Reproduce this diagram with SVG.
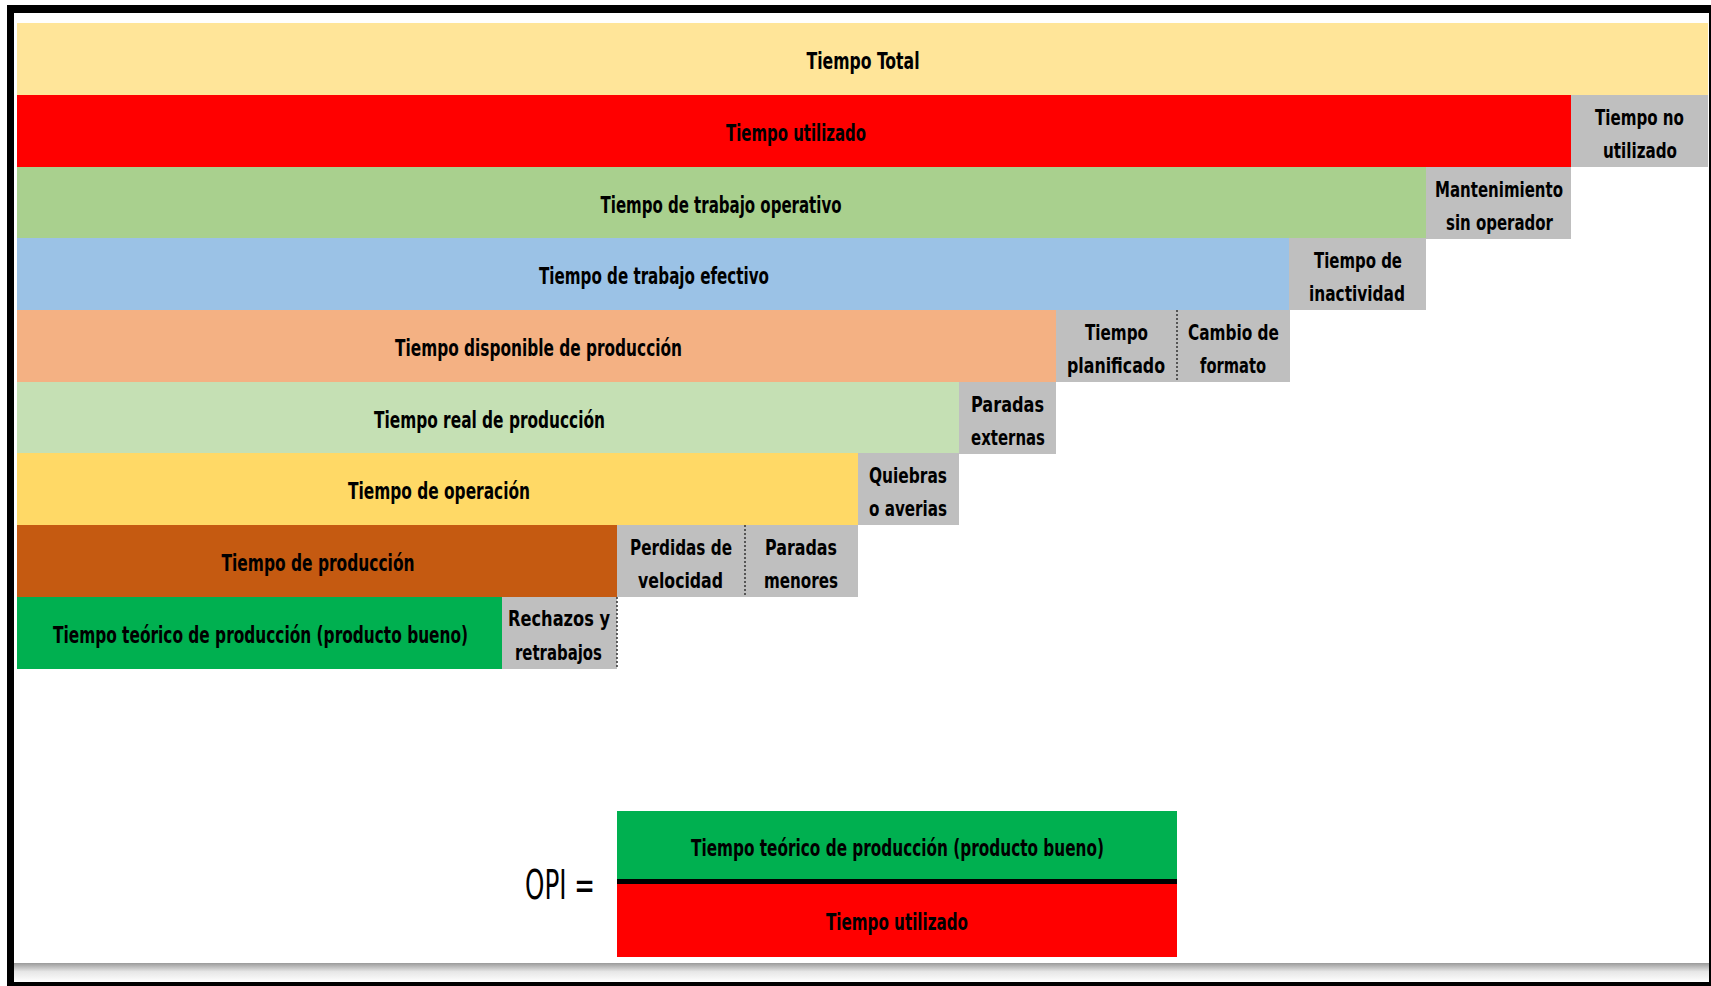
<svg xmlns="http://www.w3.org/2000/svg" width="1711" height="986" viewBox="0 0 1711 986">
<defs>
<linearGradient id="shadow" x1="0" y1="0" x2="0" y2="1">
<stop offset="0" stop-color="#9a9a9a"/>
<stop offset="0.45" stop-color="#e6e6e6"/>
<stop offset="1" stop-color="#ffffff"/>
</linearGradient>
</defs>
<style>
text{font-family:"Liberation Sans Narrow","DejaVu Sans Condensed","Liberation Sans",sans-serif;font-weight:bold;font-size:23px;fill:#000;text-anchor:middle}
.g{font-size:21px}
.gray{fill:#BFBFBF}
.dot{stroke:#333;stroke-width:1.5;stroke-dasharray:2 2;fill:none}
.opi{font-weight:normal;font-size:40px}
</style>
<rect x="0" y="0" width="1711" height="986" fill="#ffffff"/>
<rect x="7" y="5" width="1704" height="981" fill="#000000"/>
<rect x="14" y="13" width="1695" height="969" fill="#ffffff"/>
<rect x="14" y="963" width="1695" height="19" fill="url(#shadow)"/>

<g id="row1">
<rect x="17" y="23" width="1691" height="72" fill="#FFE599"/>
<text x="863" y="69" textLength="113" lengthAdjust="spacingAndGlyphs">Tiempo Total</text>
</g>
<g id="row2">
<rect x="17" y="95" width="1554" height="72" fill="#FF0000"/>
<text x="796" y="141" textLength="140" lengthAdjust="spacingAndGlyphs">Tiempo utilizado</text>
</g>
<g id="noutil">
<rect class="gray" x="1571" y="95" width="137" height="72"/>
<text class="g" x="1639.5" y="125" textLength="89" lengthAdjust="spacingAndGlyphs">Tiempo no</text>
<text class="g" x="1640" y="158" textLength="74" lengthAdjust="spacingAndGlyphs">utilizado</text>
</g>
<g id="row3">
<rect x="17" y="167" width="1409" height="71" fill="#A9D08E"/>
<text x="721" y="213" textLength="241" lengthAdjust="spacingAndGlyphs">Tiempo de trabajo operativo</text>
</g>
<g id="mant">
<rect class="gray" x="1426" y="167" width="145" height="72"/>
<text class="g" x="1499" y="197" textLength="128" lengthAdjust="spacingAndGlyphs">Mantenimiento</text>
<text class="g" x="1499.5" y="230" textLength="107" lengthAdjust="spacingAndGlyphs">sin operador</text>
</g>
<g id="row4">
<rect x="17" y="238" width="1272" height="72" fill="#9BC2E6"/>
<text x="654" y="284" textLength="230" lengthAdjust="spacingAndGlyphs">Tiempo de trabajo efectivo</text>
</g>
<g id="inact">
<rect class="gray" x="1289" y="238" width="137" height="72"/>
<text class="g" x="1358" y="268" textLength="88" lengthAdjust="spacingAndGlyphs">Tiempo de</text>
<text class="g" x="1357" y="301" textLength="96" lengthAdjust="spacingAndGlyphs">inactividad</text>
</g>
<g id="row5">
<rect x="17" y="310" width="1039" height="72" fill="#F4B183"/>
<text x="538.5" y="356" textLength="287" lengthAdjust="spacingAndGlyphs">Tiempo disponible de producción</text>
</g>
<g id="planif">
<rect class="gray" x="1056" y="310" width="121" height="72"/>
<text class="g" x="1116.5" y="340" textLength="63" lengthAdjust="spacingAndGlyphs">Tiempo</text>
<text class="g" x="1116" y="373" textLength="98" lengthAdjust="spacingAndGlyphs">planificado</text>
</g>
<g id="cambio">
<rect class="gray" x="1177" y="310" width="113" height="72"/>
<text class="g" x="1233.5" y="340" textLength="91" lengthAdjust="spacingAndGlyphs">Cambio de</text>
<text class="g" x="1233" y="373" textLength="66" lengthAdjust="spacingAndGlyphs">formato</text>
</g>
<g id="row6">
<rect x="17" y="382" width="942" height="71" fill="#C5E0B4"/>
<text x="489.5" y="428" textLength="231" lengthAdjust="spacingAndGlyphs">Tiempo real de producción</text>
</g>
<g id="externas">
<rect class="gray" x="959" y="382" width="97" height="72"/>
<text class="g" x="1007.5" y="412" textLength="73" lengthAdjust="spacingAndGlyphs">Paradas</text>
<text class="g" x="1008" y="445" textLength="74" lengthAdjust="spacingAndGlyphs">externas</text>
</g>
<g id="row7">
<rect x="17" y="453" width="841" height="72" fill="#FFD966"/>
<text x="439" y="499" textLength="182" lengthAdjust="spacingAndGlyphs">Tiempo de operación</text>
</g>
<g id="quiebras">
<rect class="gray" x="858" y="453" width="101" height="72"/>
<text class="g" x="908" y="483" textLength="78" lengthAdjust="spacingAndGlyphs">Quiebras</text>
<text class="g" x="908" y="516" textLength="78" lengthAdjust="spacingAndGlyphs">o averias</text>
</g>
<g id="row8">
<rect x="17" y="525" width="600" height="72" fill="#C55A11"/>
<text x="318" y="571" textLength="193" lengthAdjust="spacingAndGlyphs">Tiempo de producción</text>
</g>
<g id="perdidas">
<rect class="gray" x="617" y="525" width="128" height="72"/>
<text class="g" x="681" y="555" textLength="102" lengthAdjust="spacingAndGlyphs">Perdidas de</text>
<text class="g" x="680.5" y="588" textLength="85" lengthAdjust="spacingAndGlyphs">velocidad</text>
</g>
<g id="menores">
<rect class="gray" x="745" y="525" width="113" height="72"/>
<text class="g" x="801" y="555" textLength="72" lengthAdjust="spacingAndGlyphs">Paradas</text>
<text class="g" x="801" y="588" textLength="74" lengthAdjust="spacingAndGlyphs">menores</text>
</g>
<g id="row9">
<rect x="17" y="597" width="485" height="72" fill="#00B050"/>
<text transform="translate(260.5 643) scale(0.7 1)" x="0" y="0" textLength="593" lengthAdjust="spacingAndGlyphs">Tiempo teórico de producción (producto bueno)</text>
</g>
<g id="rechazos">
<rect class="gray" x="502" y="597" width="115" height="72"/>
<text class="g" x="559" y="626" textLength="102" lengthAdjust="spacingAndGlyphs">Rechazos y</text>
<text class="g" x="558.5" y="660" textLength="87" lengthAdjust="spacingAndGlyphs">retrabajos</text>
</g>

<g id="dividers">
<line class="dot" x1="1177" y1="310" x2="1177" y2="382"/>
<line class="dot" x1="745" y1="525" x2="745" y2="597"/>
<line class="dot" x1="617" y1="597" x2="617" y2="669"/>
</g>

<g id="formula">
<text class="opi" x="560" y="899" textLength="70" lengthAdjust="spacingAndGlyphs">OPI =</text>
<rect x="617" y="811" width="560" height="68" fill="#00B050"/>
<rect x="617" y="879" width="560" height="5" fill="#000000"/>
<rect x="617" y="884" width="560" height="73" fill="#FF0000"/>
<text x="897.5" y="856" textLength="413" lengthAdjust="spacingAndGlyphs">Tiempo teórico de producción (producto bueno)</text>
<text x="897" y="930" textLength="142" lengthAdjust="spacingAndGlyphs">Tiempo utilizado</text>
</g>
</svg>
